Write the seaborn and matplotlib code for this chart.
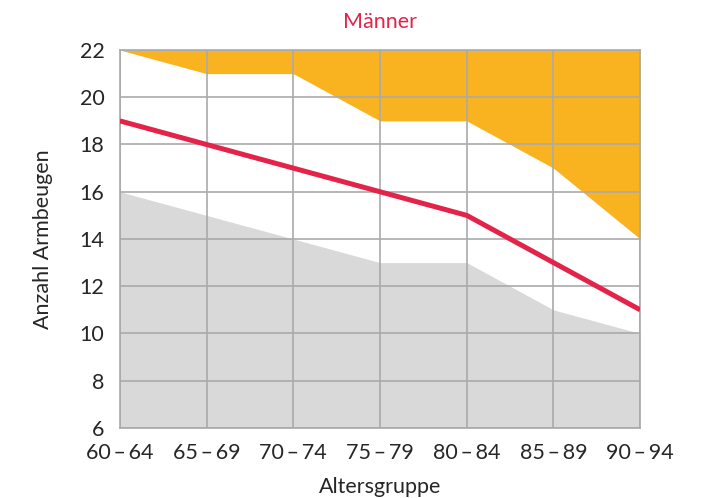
import matplotlib
matplotlib.use("Agg")
import matplotlib.pyplot as plt
import seaborn as sns
import pandas as pd

age_groups = ["60\u2009\u2013\u200964", "65\u2009\u2013\u200969", "70\u2009\u2013\u200974",
              "75\u2009\u2013\u200979", "80\u2009\u2013\u200984", "85\u2009\u2013\u200989",
              "90\u2009\u2013\u200994"]
lower = [16, 15, 14, 13, 13, 11, 10]
median = [19, 18, 17, 16, 15, 13, 11]
upper = [22, 21, 21, 19, 19, 17, 14]

sns.set_style("white")
plt.rcParams['font.family'] = ['Lato', 'DejaVu Sans']

df = pd.DataFrame({"pos": range(len(age_groups)), "median": median})

fig = plt.figure(figsize=(7.09, 4.98), dpi=100)
ax = fig.add_axes([0.169, 0.1406, 0.734, 0.759])

ax.fill_between(df["pos"], 6, lower, color="#d9d9d9", linewidth=0, zorder=1)
ax.fill_between(df["pos"], upper, 22, color="#f9b320", linewidth=0, zorder=1)
sns.lineplot(data=df, x="pos", y="median", color="#e4234a", linewidth=3.6, ax=ax, zorder=3,
             solid_capstyle="butt")

ax.set_xlim(0, len(age_groups) - 1)
ax.set_ylim(6, 22)
ax.set_xticks(range(len(age_groups)))
ax.set_xticklabels(age_groups)
ax.set_yticks(range(6, 23, 2))
ax.grid(True, color="#aaaaaa", linewidth=1.2, zorder=2)
ax.set_axisbelow(False)
for s in ax.spines.values():
    s.set_color("#aaaaaa")
    s.set_linewidth(1.2)
ax.tick_params(axis="y", length=8, width=1.2, color="#aaaaaa", labelsize=15.5, pad=3)
ax.tick_params(axis="x", length=0, labelsize=15.5, pad=11)

ax.set_xlabel("Altersgruppe", fontsize=15.5, labelpad=10)
ax.set_ylabel("Anzahl Armbeugen", fontsize=15.5, labelpad=19)
ax.set_title("Männer", color="#e4234a", fontsize=15.5, pad=16)

fig.savefig("out.png", dpi=100)
